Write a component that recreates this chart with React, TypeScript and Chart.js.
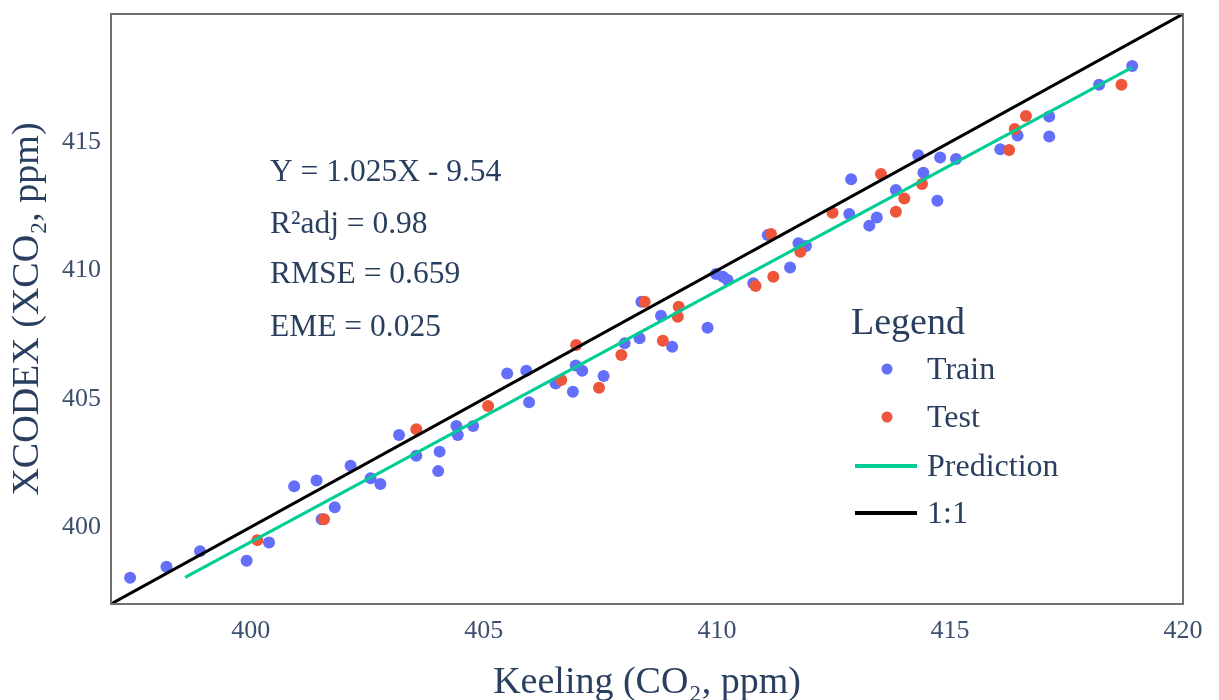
import React, { useEffect, useRef } from "react";
import { Chart, registerables } from "chart.js";

Chart.register(...registerables);

// ---- Data ----
const trainX = [
  397.41, 398.19, 398.91, 399.91, 400.39, 400.93, 401.41, 401.52, 401.8, 402.14,
  402.57, 402.78, 403.18, 403.55, 404.02, 404.05, 404.41, 404.44, 404.77, 405.5,
  405.91, 405.97, 406.54, 406.91, 406.97, 407.11, 407.57, 408.02, 408.34, 408.38,
  408.8, 409.04, 409.8, 409.98, 410.13, 410.23, 410.78, 411.09, 411.57, 411.75,
  411.91, 412.84, 412.88, 413.27, 413.43, 413.84, 414.32, 414.43, 414.73, 414.79,
  415.13, 416.08, 416.45, 417.13, 417.13, 418.2, 418.91,
];
const trainY = [
  398.02, 398.45, 399.06, 398.69, 399.4, 401.59, 401.81, 400.3, 400.77, 402.39,
  401.9, 401.68, 403.59, 402.78, 402.18, 402.94, 403.94, 403.59, 403.94, 405.99,
  406.09, 404.86, 405.6, 405.27, 406.3, 406.09, 405.89, 407.16, 407.36, 408.78,
  408.24, 407.03, 407.77, 409.86, 409.76, 409.63, 409.5, 411.38, 410.12, 411.06,
  410.96, 412.2, 413.56, 411.75, 412.07, 413.14, 414.49, 413.81, 412.72, 414.41,
  414.35, 414.73, 415.26, 416.0, 415.22, 417.24, 417.97,
];
const testX = [
  400.14, 401.57, 403.55, 405.09, 406.66, 406.98, 407.47, 407.95, 408.45, 408.84,
  409.16, 409.18, 410.83, 411.16, 411.21, 411.79, 412.48, 413.52, 413.84, 414.02,
  414.4, 416.27, 416.39, 416.63, 418.68,
];
const testY = [
  399.49, 400.3, 403.81, 404.72, 405.73, 407.1, 405.43, 406.71, 408.78, 407.26,
  408.2, 408.59, 409.4, 411.42, 409.76, 410.73, 412.25, 413.76, 412.29, 412.81,
  413.37, 414.7, 415.52, 416.02, 417.24,
];
const predictionX = [398.59, 418.91];
const predictionY = [398.04, 417.92];
const identityX = [397, 420];
const identityY = [397, 420];

const xTicks = [400, 405, 410, 415, 420];
const yTicks = [400, 405, 410, 415];
const axisMin = 397;
const axisMax = 420;

const statsLines = ["Y = 1.025X - 9.54", "R\u00B2adj = 0.98", "RMSE = 0.659", "EME = 0.025"];
const legendTitle = "Legend";
const legendLabels = ["Train", "Test", "Prediction", "1:1"];

const xTitle = "Keeling (CO\u2082, ppm)";
const yTitle = "XCODEX (XCO\u2082, ppm)";

// ---- Styles ----
const FONT = "'Liberation Serif', 'Times New Roman', serif";
const TEXT = "#2a3f5f";
const TICK_TEXT = "#3c4f6e";
const BLUE = "#636efa";
const RED = "#ef553b";
const GREEN = "#00cc96";
const BLACK = "#000000";

const zip = (xs: number[], ys: number[]) => xs.map((x, i) => ({ x, y: ys[i] }));

const overlayPlugin = {
  id: "overlay",
  afterDraw(chart: any) {
    const { ctx, chartArea: ca } = chart;
    ctx.save();
    // frame
    ctx.strokeStyle = "#707070";
    ctx.lineWidth = 2;
    ctx.strokeRect(ca.left, ca.top, ca.right - ca.left, ca.bottom - ca.top);

    // statistics text
    ctx.fillStyle = TEXT;
    ctx.textAlign = "left";
    ctx.textBaseline = "middle";
    ctx.font = `31.5px ${FONT}`;
    const statsY = [159, 211, 261, 314];
    statsLines.forEach((t, i) => ctx.fillText(t, ca.left + 159, ca.top + statsY[i]));

    // legend
    ctx.font = `38px ${FONT}`;
    ctx.fillText(legendTitle, ca.left + 740, ca.top + 310);
    const rows = [355, 403, 452, 499];
    const textRows = [357, 405, 454, 501];
    const colors = [BLUE, RED, GREEN, BLACK];
    ctx.font = `32px ${FONT}`;
    legendLabels.forEach((label, i) => {
      const y = ca.top + rows[i];
      if (i < 2) {
        ctx.beginPath();
        ctx.fillStyle = colors[i];
        ctx.arc(ca.left + 776, y, 5.5, 0, Math.PI * 2);
        ctx.fill();
      } else {
        ctx.beginPath();
        ctx.strokeStyle = colors[i];
        ctx.lineWidth = 4;
        ctx.moveTo(ca.left + 744, y);
        ctx.lineTo(ca.left + 806, y);
        ctx.stroke();
      }
      ctx.fillStyle = TEXT;
      ctx.fillText(label, ca.left + 816, ca.top + textRows[i]);
    });
    ctx.restore();
  },
};

export default function App() {
  const ref = useRef<HTMLCanvasElement | null>(null);

  useEffect(() => {
    if (!ref.current) return;
    const chart = new Chart(ref.current, {
      type: "scatter",
      data: {
        datasets: [
          {
            label: "Train",
            data: zip(trainX, trainY),
            backgroundColor: BLUE,
            borderColor: BLUE,
            pointRadius: 6,
            pointBorderWidth: 0,
            order: 3,
          },
          {
            label: "Test",
            data: zip(testX, testY),
            backgroundColor: RED,
            borderColor: RED,
            pointRadius: 6,
            pointBorderWidth: 0,
            order: 2,
          },
          {
            label: "Prediction",
            type: "line",
            data: zip(predictionX, predictionY),
            borderColor: GREEN,
            borderWidth: 3,
            pointRadius: 0,
            fill: false,
            order: 1,
          },
          {
            label: "1:1",
            type: "line",
            data: zip(identityX, identityY),
            borderColor: BLACK,
            borderWidth: 3,
            pointRadius: 0,
            fill: false,
            order: 0,
          },
        ],
      } as any,
      options: {
        animation: false,
        responsive: false,
        devicePixelRatio: 1,
        layout: { padding: { left: 0, right: 36, top: 14, bottom: 0 } },
        plugins: {
          legend: { display: false },
          tooltip: { enabled: false },
        },
        scales: {
          x: {
            type: "linear",
            min: axisMin,
            max: axisMax,
            grid: { display: false, drawTicks: false },
            border: { display: false },
            afterBuildTicks: (s: any) => {
              s.ticks = xTicks.map((v) => ({ value: v }));
            },
            afterFit: (s: any) => {
              s.height = 96;
              s.paddingLeft = 0;
              s.paddingRight = 0;
            },
            ticks: {
              font: { family: FONT, size: 26 },
              color: TICK_TEXT,
              padding: 12,
              maxRotation: 0,
              autoSkip: false,
            },
            title: {
              display: true,
              text: xTitle,
              color: TEXT,
              font: { family: FONT, size: 38, lineHeight: 1 },
              padding: { top: 0, bottom: -2 },
            },
          },
          y: {
            type: "linear",
            min: axisMin,
            max: axisMax,
            grid: { display: false, drawTicks: false },
            border: { display: false },
            afterBuildTicks: (s: any) => {
              s.ticks = yTicks.map((v) => ({ value: v }));
            },
            afterFit: (s: any) => {
              s.width = 111;
              s.paddingTop = 0;
              s.paddingBottom = 0;
            },
            ticks: {
              font: { family: FONT, size: 26 },
              color: TICK_TEXT,
              padding: 10,
              autoSkip: false,
            },
            title: {
              display: true,
              text: yTitle,
              color: TEXT,
              font: { family: FONT, size: 38, lineHeight: 1 },
              padding: { top: 9, bottom: 0 },
            },
          },
        },
      } as any,
      plugins: [overlayPlugin],
    });
    return () => chart.destroy();
  }, []);

  return (
    <div style={{ position: "fixed", left: 0, top: 0, width: 1219, height: 700, background: "#fff" }}>
      <canvas ref={ref} width={1219} height={700} style={{ display: "block" }} />
    </div>
  );
}
